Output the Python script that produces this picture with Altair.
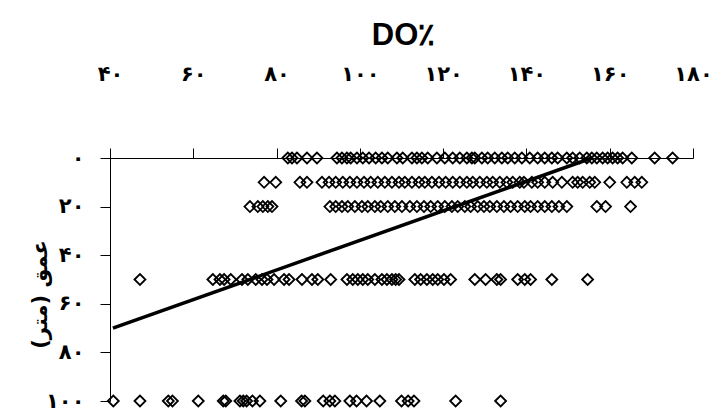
import altair as alt
import pandas as pd

# Dissolved-oxygen saturation (%) measured at each sampling depth (m)
do_0m = [82.7, 83.7, 84.9, 87.3, 89.7, 94.5, 95.7, 96.9, 97.8, 99.3, 100.7, 102.2,
         103.8, 105.3, 106.7, 108.9, 110.3, 112.5, 113.7, 114.9, 116.3, 118.5, 120.4,
         122.3, 124.0, 125.7, 126.9, 127.6, 129.3, 130.7, 132.4, 134.1, 135.5, 137.2,
         138.9, 140.8, 142.7, 144.4, 146.1, 147.5, 149.7, 151.1, 152.8, 154.5, 155.7,
         156.9, 158.3, 159.5, 160.7, 161.9, 163.1, 165.3, 170.8, 175.1]
do_10m = [77.0, 79.8, 85.6, 87.3, 90.9, 92.6, 94.2, 95.9, 97.6, 99.3, 101.0, 102.6,
          104.3, 106.0, 107.7, 109.4, 110.8, 112.5, 114.2, 115.6, 117.3, 119.0, 120.6,
          122.3, 124.0, 125.7, 127.1, 128.8, 130.5, 131.9, 133.6, 135.3, 136.7, 138.4,
          139.4, 141.3, 142.7, 144.4, 146.3, 148.5, 151.1, 152.3, 153.5, 155.2, 156.4,
          160.0, 164.1, 166.0, 167.7]
do_20m = [73.6, 75.5, 76.7, 77.9, 78.9, 92.8, 94.2, 95.7, 97.1, 98.8, 100.5, 101.9,
          103.6, 105.0, 106.7, 108.4, 110.1, 112.0, 113.7, 115.4, 117.0, 118.7, 120.4,
          122.1, 123.5, 125.2, 126.6, 128.3, 129.8, 131.2, 132.9, 134.6, 136.2, 137.9,
          139.6, 141.0, 142.7, 144.4, 146.1, 147.8, 149.7, 156.9, 159.0, 165.0]
do_50m = [47.2, 64.7, 66.4, 67.4, 69.0, 71.7, 73.1, 75.0, 76.5, 77.7, 79.4, 81.8,
          83.0, 86.1, 88.5, 89.9, 93.0, 96.9, 98.3, 99.5, 100.7, 101.9, 103.6, 105.3,
          106.5, 107.7, 108.6, 109.4, 113.2, 114.6, 116.1, 117.5, 118.7, 120.2, 121.8,
          127.6, 130.2, 132.9, 133.8, 137.9, 139.6, 141.0, 146.1, 154.7]
do_100m = [40.8, 47.2, 54.0, 55.0, 61.2, 67.2, 67.8, 71.2, 72.0, 72.8, 74.2, 76.0,
           81.0, 86.0, 86.8, 91.2, 92.8, 94.0, 97.6, 99.2, 101.6, 104.8, 110.0, 111.6,
           113.0, 123.0, 133.8]

depth_rows = [(0, do_0m), (10, do_10m), (20, do_20m), (50, do_50m), (100, do_100m)]

# Linear trend line (end points)
trend_do = [40.7, 155.7]
trend_depth = [70.0, 0.0]

x_ticks = [40, 60, 80, 100, 120, 140, 160, 180]
y_ticks = [0, 20, 40, 60, 80, 100]

PERSIAN = str.maketrans("0123456789", "۰۱۲۳۴۵۶۷۸۹")


def persian_label_expr(values):
    expr = "''"
    for v in reversed(values):
        expr = f"datum.value == {v} ? '{str(v).translate(PERSIAN)}' : ({expr})"
    return expr


points = pd.DataFrame(
    [{"DO": v, "depth": d} for d, vals in depth_rows for v in vals]
)
trend = pd.DataFrame({"DO": trend_do, "depth": trend_depth})

label_font = "DejaVu Sans"

x_scale = alt.Scale(domain=[40, 180], nice=False, zero=False)
y_scale = alt.Scale(domain=[0, 100], reverse=True, nice=False, zero=False)

x_axis = alt.Axis(
    orient="top",
    values=x_ticks,
    labelExpr=persian_label_expr(x_ticks),
    title="DO٪",
    titleFont="Liberation Sans",
    titleFontSize=31,
    titleFontWeight="bold",
    titleColor="black",
    titleX=293,
    titleY=-123,
    titleAlign="center",
    titleBaseline="middle",
    labelFont=label_font,
    labelFontSize=21,
    labelFontWeight="bold",
    labelColor="black",
    labelPadding=64,
    tickSize=10,
    tickColor="black",
    domainColor="black",
    grid=False,
    labelFlush=False,
    labelOverlap=False,
)

y_axis = alt.Axis(
    orient="left",
    values=y_ticks,
    labelExpr=persian_label_expr(y_ticks),
    title="عمق (متر)",
    titleFont=label_font,
    titleFontSize=21,
    titleFontWeight="bold",
    titleColor="black",
    titleX=-70,
    titleY=136,
    titleAlign="center",
    titleBaseline="middle",
    labelFont=label_font,
    labelFontSize=21,
    labelFontWeight="bold",
    labelColor="black",
    labelPadding=16,
    tickSize=10,
    tickColor="black",
    domainColor="black",
    grid=False,
    labelFlush=False,
    labelOverlap=False,
)

scatter = alt.Chart(points).mark_point(
    shape="diamond", filled=False, size=120, color="black", strokeWidth=1.8, opacity=1
).encode(
    x=alt.X("DO:Q", scale=x_scale, axis=x_axis),
    y=alt.Y("depth:Q", scale=y_scale, axis=y_axis),
)

trend_line = alt.Chart(trend).mark_line(color="black", strokeWidth=3.5).encode(
    x=alt.X("DO:Q", scale=x_scale),
    y=alt.Y("depth:Q", scale=y_scale),
)

chart = (
    alt.layer(scatter, trend_line)
    .properties(
        width=583,
        height=243,
        autosize=alt.AutoSizeParams(type="none"),
        padding={"left": 110, "top": 158, "right": 19, "bottom": 12},
        background="white",
    )
    .configure_view(stroke=None)
)

chart.save("out.html", embed_options={"renderer": "svg", "actions": False})
